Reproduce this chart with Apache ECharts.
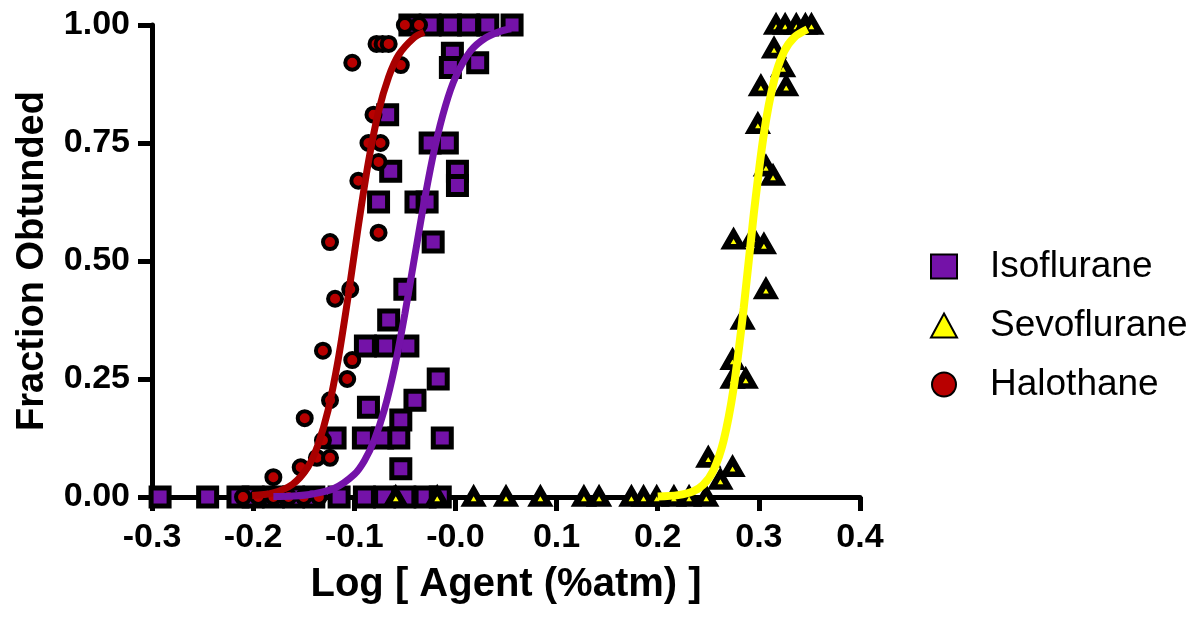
<!DOCTYPE html>
<html>
<head>
<meta charset="utf-8">
<script src="https://cdn.jsdelivr.net/npm/echarts@6/dist/echarts.min.js"></script>
<style>
  html, body { margin: 0; padding: 0; background: #fff; }
  #main { width: 1200px; height: 621px; }
</style>
</head>
<body>
<div id="main"></div>
<script>
// tick labels
var xTickLabels = ['-0.3', '-0.2', '-0.1', '-0.0', '0.1', '0.2', '0.3', '0.4'];
var yTickLabels = ['0.00', '0.25', '0.50', '0.75', '1.00'];

// Isoflurane points [log agent, fraction]
var isoPoints = [
  [-0.045, 1], [-0.025, 1], [-0.005, 1], [0.013, 1], [0.032, 1], [0.056, 1],
  [-0.003, 0.94], [-0.005, 0.91], [0.022, 0.92],
  [-0.067, 0.81], [-0.025, 0.75], [-0.008, 0.75],
  [0.002, 0.69], [0.002, 0.66], [-0.064, 0.69],
  [-0.076, 0.625], [-0.039, 0.625], [-0.028, 0.625],
  [-0.022, 0.54], [-0.05, 0.44], [-0.066, 0.375],
  [-0.089, 0.32], [-0.069, 0.32], [-0.047, 0.32],
  [-0.017, 0.25], [-0.04, 0.205], [-0.086, 0.19], [-0.054, 0.163],
  [-0.119, 0.125], [-0.091, 0.125], [-0.072, 0.125], [-0.056, 0.125], [-0.013, 0.125],
  [-0.054, 0.06],
  [-0.292, 0], [-0.245, 0], [-0.215, 0], [-0.2, 0], [-0.18, 0], [-0.16, 0], [-0.14, 0],
  [-0.115, 0], [-0.09, 0], [-0.07, 0], [-0.05, 0], [-0.03, 0], [-0.015, 0]
];

// Sevoflurane points
var sevoPoints = [
  [0.317, 1], [0.326, 1], [0.337, 1], [0.346, 1], [0.352, 1],
  [0.315, 0.95], [0.324, 0.91], [0.302, 0.87], [0.327, 0.87], [0.299, 0.79],
  [0.307, 0.70], [0.314, 0.68],
  [0.275, 0.545], [0.294, 0.55], [0.305, 0.535],
  [0.307, 0.44], [0.284, 0.375], [0.274, 0.29], [0.274, 0.25], [0.287, 0.25],
  [0.25, 0.083], [0.274, 0.063], [0.262, 0.036],
  [-0.059, 0], [-0.018, 0], [0.018, 0], [0.05, 0], [0.084, 0], [0.127, 0], [0.142, 0],
  [0.174, 0], [0.186, 0], [0.199, 0], [0.216, 0], [0.231, 0], [0.248, 0]
];

// Halothane points
var haloPoints = [
  [-0.05, 1], [-0.036, 1],
  [-0.078, 0.96], [-0.072, 0.96], [-0.066, 0.96],
  [-0.102, 0.92], [-0.054, 0.915],
  [-0.081, 0.81], [-0.086, 0.75], [-0.074, 0.75], [-0.076, 0.71],
  [-0.096, 0.67], [-0.076, 0.56], [-0.124, 0.54],
  [-0.104, 0.44], [-0.119, 0.42], [-0.131, 0.31], [-0.102, 0.29], [-0.107, 0.25],
  [-0.124, 0.205], [-0.149, 0.167], [-0.131, 0.12],
  [-0.137, 0.083], [-0.124, 0.083], [-0.153, 0.063], [-0.18, 0.042],
  [-0.21, 0], [-0.195, 0], [-0.18, 0], [-0.165, 0], [-0.15, 0], [-0.135, 0]
];

// fitted curves
var haloCurve = [
  [-0.201, 0.003], [-0.181, 0.008], [-0.161, 0.027], [-0.146, 0.063], [-0.136, 0.11],
  [-0.126, 0.183], [-0.116, 0.29], [-0.106, 0.426], [-0.096, 0.574], [-0.086, 0.71],
  [-0.076, 0.817], [-0.066, 0.89], [-0.056, 0.937], [-0.041, 0.973], [-0.031, 0.985]
];
var isoCurve = [
  [-0.18, 0.001], [-0.16, 0.002], [-0.14, 0.007], [-0.12, 0.018], [-0.10, 0.048],
  [-0.09, 0.077], [-0.08, 0.122], [-0.07, 0.187], [-0.06, 0.276], [-0.05, 0.388],
  [-0.04, 0.513], [-0.03, 0.636], [-0.02, 0.744], [-0.01, 0.828], [0.0, 0.889],
  [0.015, 0.945], [0.03, 0.973], [0.045, 0.987], [0.055, 0.992]
];
var sevoCurve = [
  [0.20, 0.001], [0.22, 0.004], [0.235, 0.012], [0.245, 0.026], [0.255, 0.056],
  [0.265, 0.118], [0.275, 0.23], [0.285, 0.40], [0.295, 0.60], [0.305, 0.77],
  [0.315, 0.882], [0.325, 0.944], [0.335, 0.974], [0.348, 0.991]
];

var font = "'Liberation Sans', Arial, sans-serif";
var purple = '#7412a8';
var red = '#b80000';
var yellow = '#ffff00';

var myChart = echarts.init(document.getElementById('main'));

myChart.setOption({
  animation: false,
  backgroundColor: '#ffffff',
  textStyle: { fontFamily: font },
  grid: {
    left: 152,
    right: 340,
    top: 25,
    bottom: 124
  },
  legend: {
    orient: 'vertical',
    left: 925,
    top: 243,
    itemGap: 22,
    itemWidth: 26,
    itemHeight: 24,
    textStyle: { fontSize: 37, color: '#000', fontFamily: font, padding: [0, 0, 0, 28] },
    data: ['Isoflurane', 'Sevoflurane', 'Halothane']
  },
  xAxis: {
    type: 'value',
    min: -0.3,
    max: 0.4,
    interval: 0.1,
    name: 'Log [ Agent (%atm) ]',
    nameLocation: 'middle',
    nameGap: 68,
    nameTextStyle: { fontSize: 40, fontWeight: 'bold', color: '#000', fontFamily: font },
    axisLine: { show: true, onZero: false, lineStyle: { color: '#000', width: 5 } },
    axisTick: { show: true, length: 14, lineStyle: { color: '#000', width: 5 } },
    axisLabel: {
      fontSize: 34,
      fontWeight: 'bold',
      color: '#000',
      margin: 24,
      formatter: function (v) {
        return xTickLabels[Math.round((v + 0.3) * 10)];
      }
    },
    splitLine: { show: false }
  },
  yAxis: {
    type: 'value',
    min: 0,
    max: 1,
    interval: 0.25,
    name: 'Fraction Obtunded',
    nameLocation: 'middle',
    nameGap: 100,
    nameTextStyle: { fontSize: 38, fontWeight: 'bold', color: '#000', fontFamily: font },
    axisLine: { show: true, onZero: false, lineStyle: { color: '#000', width: 5 } },
    axisTick: { show: true, length: 14, lineStyle: { color: '#000', width: 5 } },
    axisLabel: {
      fontSize: 34,
      fontWeight: 'bold',
      color: '#000',
      margin: 22,
      formatter: function (v) {
        return yTickLabels[Math.round(v * 4)];
      }
    },
    splitLine: { show: false }
  },
  series: [
    {
      name: 'Isoflurane',
      type: 'scatter',
      symbol: 'rect',
      symbolSize: 18,
      z: 2,
      itemStyle: { color: purple, borderColor: '#000', borderWidth: 5, opacity: 1 },
      data: isoPoints
    },
    {
      name: 'Sevoflurane',
      type: 'scatter',
      symbol: 'triangle',
      symbolSize: [16, 14],
      z: 2,
      itemStyle: { color: yellow, borderColor: '#000', borderWidth: 6, borderJoin: 'miter', opacity: 1 },
      data: sevoPoints
    },
    {
      name: 'Halothane',
      type: 'scatter',
      symbol: 'circle',
      symbolSize: 14,
      z: 2,
      itemStyle: { color: red, borderColor: '#000', borderWidth: 4, opacity: 1 },
      data: haloPoints
    },
    {
      name: 'haloFit',
      type: 'line',
      showSymbol: false,
      smooth: 0.3,
      z: 3,
      lineStyle: { color: '#a80000', width: 7 },
      data: haloCurve
    },
    {
      name: 'isoFit',
      type: 'line',
      showSymbol: false,
      smooth: 0.3,
      z: 3,
      lineStyle: { color: purple, width: 7 },
      data: isoCurve
    },
    {
      name: 'sevoFit',
      type: 'line',
      showSymbol: false,
      smooth: 0.3,
      z: 3,
      lineStyle: { color: yellow, width: 8 },
      data: sevoCurve
    }
  ]
});
</script>
</body>
</html>
